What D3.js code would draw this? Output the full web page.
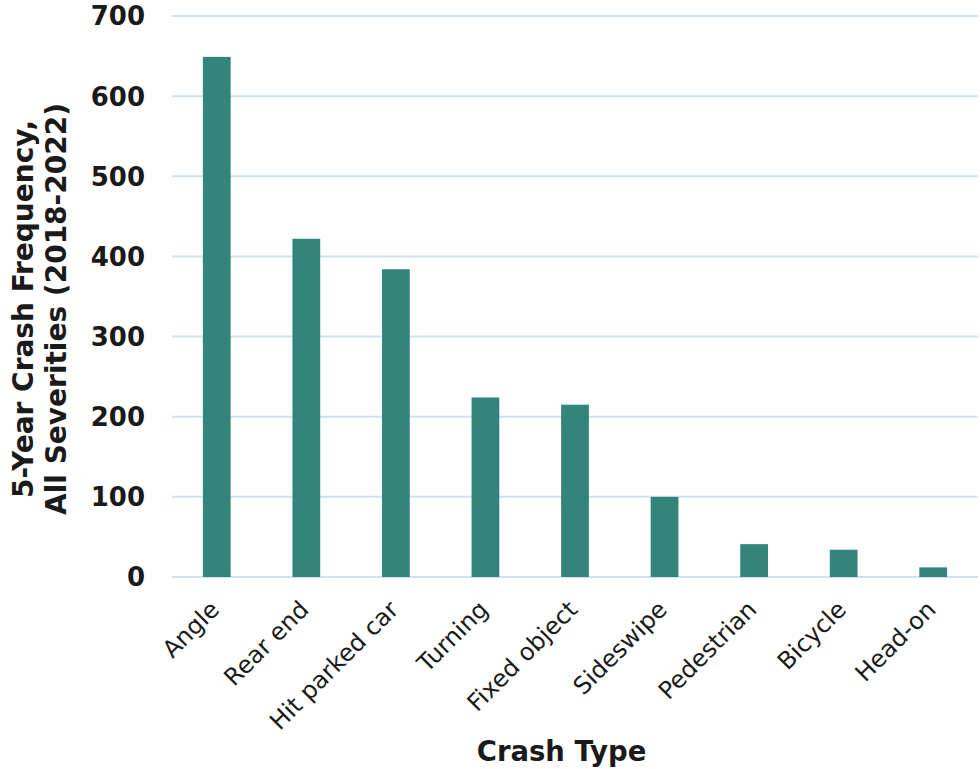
<!DOCTYPE html>
<html><head><meta charset="utf-8">
<script src="https://cdn.jsdelivr.net/npm/d3@7"></script>
<style>
html,body{margin:0;padding:0;background:#fff;}
svg{display:block;}
</style></head>
<body>
<svg id="chart" width="980" height="769"></svg>
<script>
const categories = ["Angle","Rear end","Hit parked car","Turning","Fixed object","Sideswipe","Pedestrian","Bicycle","Head-on"];
const values = [649, 422, 384, 224, 215, 100, 41, 34, 12];
const yTicks = [0,100,200,300,400,500,600,700];
const yTitleLines = ["5-Year Crash Frequency,","All Severities (2018-2022)"];
const xTitle = "Crash Type";

const svg = d3.select("#chart");
const m = {left:172, right:2, top:16, bottom:192};
const W = 980, H = 769;
const x = d3.scaleBand().domain(categories).range([m.left, W - m.right]).paddingInner(0.69).paddingOuter(0.345);
const y = d3.scaleLinear().domain([0,700]).range([H - m.bottom, m.top]);

const font = "'DejaVu Sans', Verdana, sans-serif";

// gridlines
svg.append("g").selectAll("line").data(yTicks).join("line")
  .attr("x1", m.left).attr("x2", W - m.right)
  .attr("y1", d => y(d)).attr("y2", d => y(d))
  .attr("stroke", "#cfe2f3").attr("stroke-width", 2);

// bars
svg.append("g").selectAll("rect").data(values).join("rect")
  .attr("x", (d,i) => x(categories[i]))
  .attr("width", x.bandwidth())
  .attr("y", d => y(d))
  .attr("height", d => y(0) - y(d))
  .attr("fill", "#33847b");

// y tick labels
svg.append("g").selectAll("text").data(yTicks).join("text")
  .attr("x", 145).attr("y", d => y(d)).attr("dy", "0.36em")
  .attr("text-anchor", "end")
  .attr("font-family", font).attr("font-weight", "bold").attr("font-size", 26)
  .attr("fill", "#1a1a1a")
  .text(d => d);

// x tick labels
svg.append("g").selectAll("text").data(categories).join("text")
  .attr("transform", d => `translate(${x(d) + x.bandwidth()/2 + 4},${y(0) + 34}) rotate(-45)`)
  .attr("text-anchor", "end")
  .attr("font-family", font).attr("font-size", 24)
  .attr("fill", "#1a1a1a")
  .text(d => d);

// y title
const yt = svg.append("text")
  .attr("transform", "translate(32.5,309) rotate(-90)")
  .attr("text-anchor", "middle")
  .attr("font-family", font).attr("font-weight", "bold").attr("font-size", 28)
  .attr("fill", "#1a1a1a");
yt.selectAll("tspan").data(yTitleLines).join("tspan")
  .attr("x", 0).attr("dy", (d,i) => i === 0 ? 0 : 33)
  .text(d => d);

// x title
svg.append("text")
  .attr("x", 561.5).attr("y", 761)
  .attr("text-anchor", "middle")
  .attr("font-family", font).attr("font-weight", "bold").attr("font-size", 27.5)
  .attr("fill", "#1a1a1a")
  .text(xTitle);
</script>
</body></html>
